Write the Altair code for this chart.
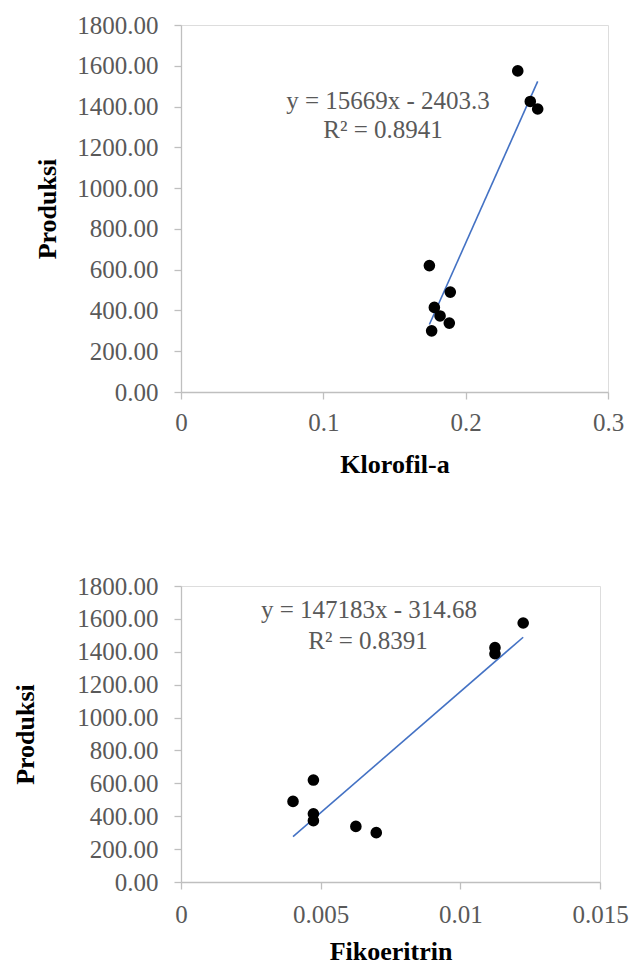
import altair as alt
import pandas as pd

# Data
produksi = [1575, 1425, 1388, 620, 490, 415, 373, 338, 300]
klorofil = [0.2366, 0.2454, 0.2506, 0.1745, 0.1892, 0.1780, 0.1820, 0.1885, 0.1761]
fikoeritrin = [0.01225, 0.01124, 0.01124, 0.00474, 0.00401, 0.00474, 0.00474, 0.00626, 0.00699]

klo_slope, klo_int = 15669, -2403.3
fik_slope, fik_int = 147183, -314.68
klo_eq = ["y = 15669x - 2403.3", "R² = 0.8941"]
fik_eq = ["y = 147183x - 314.68", "R² = 0.8391"]

y_ticks = [0, 200, 400, 600, 800, 1000, 1200, 1400, 1600, 1800]
klo_ticks = [0, 0.1, 0.2, 0.3]
fik_ticks = [0, 0.005, 0.01, 0.015]

FONT = "Liberation Serif"
GRAY = "#595959"
AXC = "#BFBFBF"


def axis(title, values, title_pad, label_pad, fmt=None, expr=None):
    kw = dict(
        title=title, values=values, grid=False,
        domainColor=AXC, tickColor=AXC, tickSize=7, domainWidth=1.3, tickWidth=1.3,
        labelFont=FONT, labelFontSize=25, labelColor=GRAY, labelPadding=label_pad,
        titleFont=FONT, titleFontSize=26, titleFontWeight="bold", titleColor="black",
        titlePadding=title_pad, labelFlush=False, labelOverlap=False,
    )
    if fmt:
        kw["format"] = fmt
    if expr:
        kw["labelExpr"] = expr
    return alt.Axis(**kw)


def panel(xs, slope, intercept, eq, xtitle, xticks, xmax, w, h, eqpos, ytitle_pad, xpads):
    df = pd.DataFrame({"x": xs, "y": produksi})
    xmin_d, xmax_d = min(xs), max(xs)
    ldf = pd.DataFrame({"x": [xmin_d, xmax_d],
                        "y": [slope * xmin_d + intercept, slope * xmax_d + intercept]})
    xenc = alt.X("x:Q", scale=alt.Scale(domain=[0, xmax], nice=False, zero=True),
                 axis=axis(xtitle, xticks, xpads[1], xpads[0], expr="toString(datum.value)"))
    yenc = alt.Y("y:Q", scale=alt.Scale(domain=[0, 1800], nice=False),
                 axis=axis("Produksi", y_ticks, ytitle_pad, 16, fmt=".2f"))
    pts = alt.Chart(df).mark_circle(size=135, color="black", opacity=1).encode(x=xenc, y=yenc)
    line = alt.Chart(ldf).mark_line(color="#4472C4", strokeWidth=1.6).encode(x=xenc, y=yenc)
    t1 = alt.Chart(pd.DataFrame({"t": [eq[0]]})).mark_text(
        font=FONT, fontSize=25, color=GRAY, align="center", baseline="middle"
    ).encode(text="t:N", x=alt.value(eqpos[0]), y=alt.value(eqpos[1]))
    t2 = alt.Chart(pd.DataFrame({"t": [eq[1]]})).mark_text(
        font=FONT, fontSize=25, color=GRAY, align="center", baseline="middle"
    ).encode(text="t:N", x=alt.value(eqpos[2]), y=alt.value(eqpos[3]))
    return alt.layer(line, pts, t1, t2).properties(width=w, height=h)


top = panel(klorofil, klo_slope, klo_int, klo_eq, "Klorofil-a", klo_ticks, 0.3,
            427, 367, (207, 76, 202, 105), 16, (11, 16))
bottom = panel(fikoeritrin, fik_slope, fik_int, fik_eq, "Fikoeritrin", fik_ticks, 0.015,
               419, 296, (188, 24, 187, 55), 38, (13, 11))

chart = alt.vconcat(top, bottom, spacing=95).properties(
    padding={"left": 12, "top": 12, "right": 0, "bottom": 0}
).configure_view(stroke=None).configure(background="white")

page_css = "html,body{margin:0;padding:0;} .vega-embed{display:block;} .vega-embed svg{display:block;}"

chart.save("out.html", embed_options={"renderer": "svg", "actions": False,
                                      "defaultStyle": page_css})
